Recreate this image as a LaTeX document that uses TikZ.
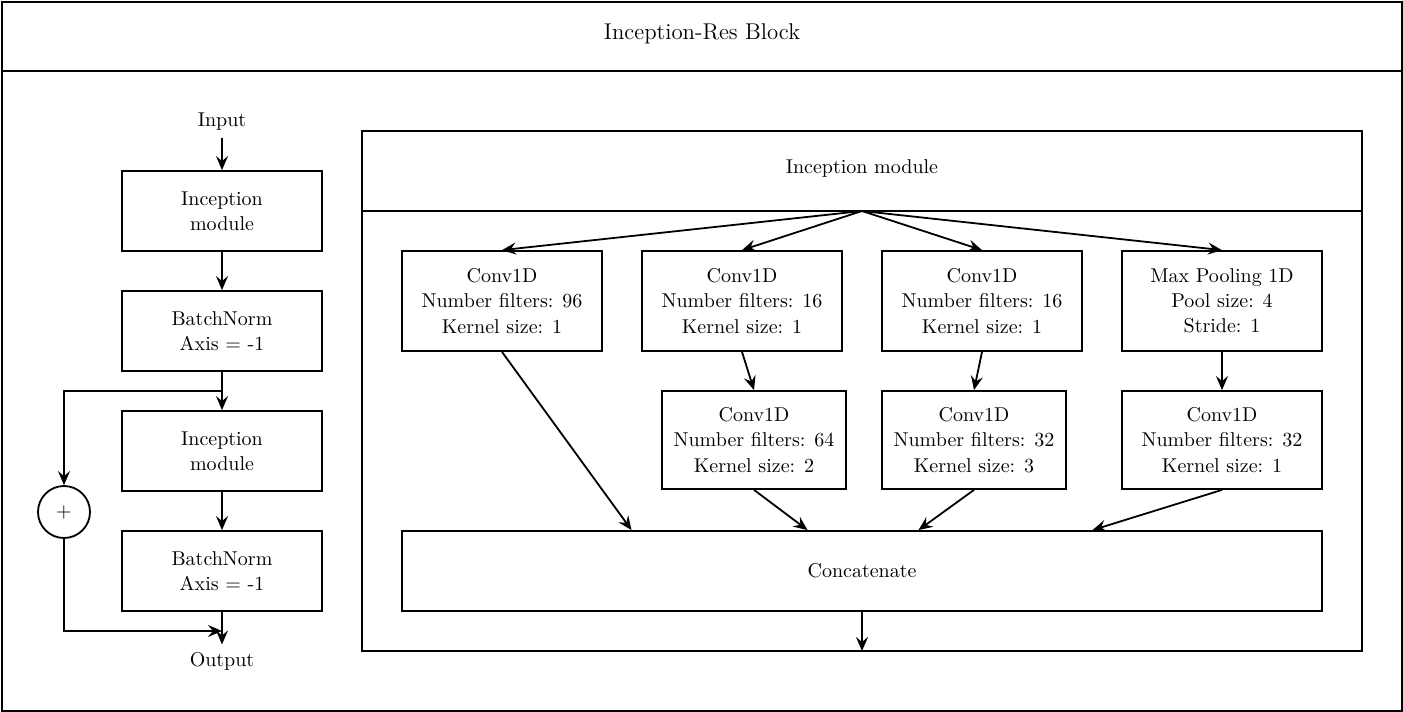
\documentclass[tikz,border=0pt]{standalone}
\usetikzlibrary{calc,arrows.meta}
\begin{document}
\begin{tikzpicture}[
		x = 0.5pt, y = -0.5pt, % pixel grid
		> = {Stealth[length=7pt,width=6pt,inset=2.5pt]}, % arrow head style
		line width=0.9pt, % line style
		font=\fontsize{10}{12.6}\selectfont,
		block/.style = {draw, align=center, minimum width=100pt, minimum height=40pt, inner sep=0pt},
		subblock/.style = {draw, align=center, minimum width=92pt, minimum height=49pt, inner sep=0pt}
		]
		
		\useasboundingbox (0,0) rectangle (1403,712);
		
		% outer frame
		\draw (2,2) rectangle (1402,711);
		\draw (2,71) -- (1402,71);
		\node[font=\fontsize{11.4}{14}\selectfont] (title) at (702,34) {Inception-Res Block};
		
		% left column
		\node (in) at (222,122) {Input};
		\node[block] (inc1) at (222,211) {Inception\\module};
		\node[block] (bn1) at (222,331) {BatchNorm\\Axis = -1};
		\node[block] (inc2) at (222,451) {Inception\\module};
		\node[block] (bn2) at (222,571) {BatchNorm\\Axis = -1};
		\node (out) at (222,661) {Output};
		\node[circle,draw,minimum size=26pt,inner sep=0pt] (add) at (64,512) {+};
		\coordinate (fork) at (222,391);
		\coordinate (join) at (222,631);
		
		\draw[->] (in) -- (inc1);
		\draw[->] (inc1) -- (bn1);
		\draw[->] (bn1) -- (inc2);
		\draw[->] (inc2) -- (bn2);
		\draw[->] (bn2) -- (out);
		\draw[->] (fork) -| (add);
		\draw[->] (add) |- (join);
		
		% inception module frame
		\draw (362,131) rectangle (1362,651);
		\draw (362,211) -- (1362,211);
		\node (imtitle) at (862,168) {Inception module};
		\coordinate (split) at (862,211);
		\coordinate (imout) at (862,651);
		
		\node[block,minimum height=50pt] (a1) at (502,301) {Conv1D\\Number filters: 96\\Kernel size: 1};
		\node[block,minimum height=50pt] (b1) at (742,301) {Conv1D\\Number filters: 16\\Kernel size: 1};
		\node[block,minimum height=50pt] (c1) at (982,301) {Conv1D\\Number filters: 16\\Kernel size: 1};
		\node[block,minimum height=50pt] (d1) at (1222,301) {Max Pooling 1D\\Pool size: 4\\Stride: 1};
		\node[subblock] (b2) at (754,440) {Conv1D\\Number filters: 64\\Kernel size: 2};
		\node[subblock] (c2) at (974,440) {Conv1D\\Number filters: 32\\Kernel size: 3};
		\node[subblock,minimum width=100pt] (d2) at (1222,440) {Conv1D\\Number filters: 32\\Kernel size: 1};
		\node[block,minimum width=460pt] (cat) at (862,571) {Concatenate};
		
		\draw[->] (split) -- (a1.north);
		\draw[->] (split) -- (b1.north);
		\draw[->] (split) -- (c1.north);
		\draw[->] (split) -- (d1.north);
		\draw[->] (b1.south) -- (b2.north);
		\draw[->] (c1.south) -- (c2.north);
		\draw[->] (d1.south) -- (d2.north);
		\draw[->] (a1.south) -- ($(cat.north west)!0.25!(cat.north east)$);
		\draw[->] (b2.south) -- (cat);
		\draw[->] (c2.south) -- (cat);
		\draw[->] (d2.south) -- ($(cat.north west)!0.75!(cat.north east)$);
		\draw[->] (cat) -- (imout);
		
\end{tikzpicture}
\end{document}
